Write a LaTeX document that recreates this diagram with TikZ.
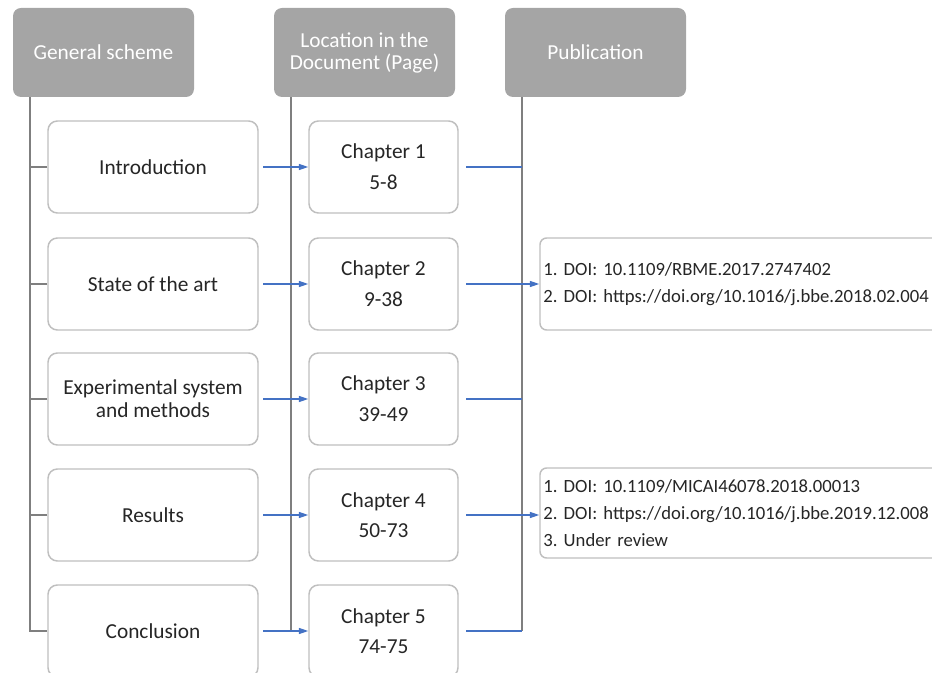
\documentclass[tikz,border=0pt]{standalone}
\usepackage{fontspec}
\setmainfont{Carlito}
\usetikzlibrary{arrows.meta}
\definecolor{hdr}{HTML}{A5A5A5}
\definecolor{bord}{HTML}{BFBFBF}
\definecolor{linegray}{HTML}{7F7F7F}
\definecolor{arrowblue}{HTML}{4472C4}
\definecolor{txt}{HTML}{262626}
\frenchspacing
\begin{document}
\begin{tikzpicture}[x=0.75pt,y=-0.75pt,
  hdrbox/.style={fill=hdr, draw=none, rounded corners=6pt, text=white,
    minimum width=135.75pt, minimum height=66.75pt, align=center, inner sep=0pt,
    font=\fontsize{16}{16.5}\selectfont},
  leftbox/.style={draw=bord, line width=1.1pt, fill=white, rounded corners=7pt,
    minimum width=157.5pt, minimum height=69pt, align=center, inner sep=0pt, text=txt,
    font=\fontsize{16}{17.5}\selectfont},
  chapbox/.style={draw=bord, line width=1.1pt, fill=white, rounded corners=7pt,
    minimum width=111.75pt, minimum height=69pt, align=center, inner sep=0pt, text=txt,
    font=\fontsize{16}{23}\selectfont},
  pubbox/.style={draw=bord, line width=1.1pt, fill=white, rounded corners=5pt,
    minimum width=315pt, text width=310pt, align=left, inner sep=2pt, text=txt,
    font=\fontsize{14}{20.5}\selectfont\frenchspacing},
  vline/.style={draw=linegray, line width=1.5pt},
  blueline/.style={draw=arrowblue, line width=0.9pt},
  bluearrow/.style={draw=arrowblue, line width=0.9pt, -{Triangle[length=7pt,width=4.5pt]}}
]
\useasboundingbox (0,0) rectangle (932,673);
\clip (0,0) rectangle (932,673);

% headers
\node[hdrbox] (h1) at (103.5,52.5) {General scheme};
\node[hdrbox] (h2) at (364.5,52.5) {Location in the\\Document (Page)};
\node[hdrbox] (h3) at (595.5,52.5) {Publication};

\coordinate (v1) at ([xshift=12.75pt]h1.south west);
\coordinate (v2) at ([xshift=12.75pt]h2.south west);
\coordinate (v3) at ([xshift=12.75pt]h3.south west);

% left column
\node[leftbox] (l1) at (153,167) {Introduction};
\node[leftbox] (l2) at (153,284) {State of the art};
\node[leftbox] (l3) at (153,399) {Experimental system\\and methods};
\node[leftbox] (l4) at (153,515) {Results};
\node[leftbox] (l5) at (153,631) {Conclusion};

% chapter column
\node[chapbox] (c1) at (383.5,167) {Chapter 1\\5-8};
\node[chapbox] (c2) at (383.5,284) {Chapter 2\\9-38};
\node[chapbox] (c3) at (383.5,399) {Chapter 3\\39-49};
\node[chapbox] (c4) at (383.5,515) {Chapter 4\\50-73};
\node[chapbox] (c5) at (383.5,631) {Chapter 5\\74-75};

% publication boxes
\node[pubbox, minimum height=69pt] (p1) at (750,284)
  {1. DOI: 10.1109/RBME.2017.2747402\\2. DOI: https://doi.org/10.1016/j.bbe.2018.02.004};
\node[pubbox, minimum height=67.5pt] (p2) at (750,513)
  {1. DOI: 10.1109/MICAI46078.2018.00013\\2. DOI: https://doi.org/10.1016/j.bbe.2019.12.008\\3. Under review};

% vertical lines
\draw[vline] (v1) |- (l5.west);
\foreach \i in {1,2,3,4} \draw[vline] (l\i.west) -- (l\i.west -| v1);
\draw[vline] (v2) -- (v2 |- c5.west);
\draw[vline] (v3) -- (v3 |- c5.east);

% connectors
\foreach \i in {1,2,3,4,5} \draw[bluearrow, shorten <=3.5pt] (l\i.east) -- (c\i.west);
\foreach \i in {1,3,5} \draw[blueline, shorten <=5.5pt] (c\i.east) -- (c\i.east -| v3);
\draw[bluearrow, shorten <=5.5pt] (c2.east) -- (c2.east -| p1.west);
\draw[bluearrow, shorten <=5.5pt] (c4.east) -- (c4.east -| p2.west);
\end{tikzpicture}
\end{document}
